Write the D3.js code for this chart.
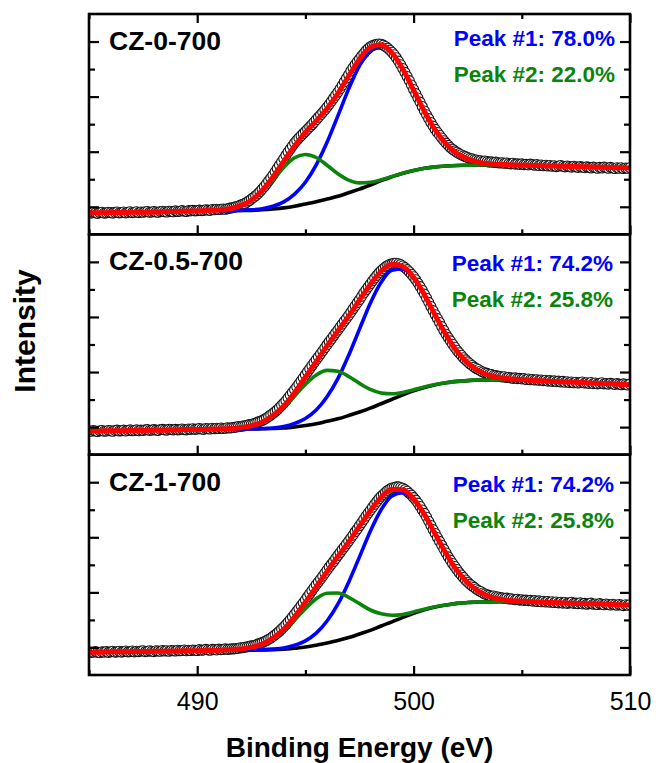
<!DOCTYPE html>
<html>
<head>
<meta charset="utf-8">
<script src="https://cdn.jsdelivr.net/npm/d3@7"></script>
<style>
  html, body { margin: 0; padding: 0; background: #fff; }
  svg { display: block; }
</style>
</head>
<body>
<script>
// ---- Spectral grid ----
const energyMin = 485, energyMax = 510;
const dataStep = 0.1;        // measured points
const fitStep = 0.5;         // fitted curves
const componentStart = 491;  // fit window start for background and peaks
const xMajorTicks = [490, 500, 510];
const xMinorTicks = [485, 495, 505];
const yMajorTicks = [1, 3, 5, 7];
const yMinorTicks = [2, 4, 6];
const intensityDomain = [0, 8];

const sampleNames = ["CZ-0-700", "CZ-0.5-700", "CZ-1-700"];
const peak1Shares = ["78.0%", "74.2%", "74.2%"];
const peak2Shares = ["22.0%", "25.8%", "25.8%"];

// ---- Measured spectra (485.0 ... 510.0 eV, 0.1 eV step) ----
const measured0 = [
  0.79,0.77,0.80,0.78,0.76,0.79,0.80,0.77,0.78,0.80,
  0.79,0.77,0.80,0.81,0.78,0.79,0.81,0.78,0.80,0.82,
  0.79,0.80,0.82,0.79,0.81,0.80,0.82,0.83,0.80,0.81,
  0.83,0.81,0.80,0.83,0.84,0.82,0.81,0.84,0.83,0.82,
  0.85,0.83,0.84,0.86,0.84,0.83,0.86,0.85,0.87,0.85,
  0.86,0.88,0.86,0.87,0.89,0.88,0.87,0.90,0.89,0.91,
  0.90,0.91,0.92,0.91,0.93,0.95,0.96,0.98,1.01,1.03,
  1.06,1.09,1.12,1.17,1.22,1.28,1.34,1.40,1.47,1.55,
  1.64,1.73,1.83,1.94,2.04,2.15,2.27,2.39,2.51,2.63,
  2.75,2.87,2.99,3.10,3.21,3.32,3.41,3.50,3.58,3.66,
  3.74,3.82,3.90,3.98,4.07,4.16,4.25,4.34,4.43,4.52,
  4.62,4.72,4.83,4.94,5.05,5.16,5.28,5.41,5.54,5.67,
  5.80,5.93,6.05,6.16,6.27,6.37,6.48,6.57,6.67,6.74,
  6.81,6.85,6.88,6.90,6.91,6.90,6.87,6.82,6.76,6.69,
  6.61,6.52,6.41,6.29,6.16,6.02,5.88,5.73,5.58,5.42,
  5.26,5.11,4.95,4.80,4.64,4.48,4.34,4.20,4.06,3.93,
  3.81,3.70,3.60,3.50,3.40,3.31,3.23,3.15,3.09,3.03,
  2.98,2.93,2.89,2.85,2.82,2.79,2.76,2.74,2.71,2.70,
  2.68,2.67,2.65,2.66,2.64,2.62,2.63,2.61,2.62,2.60,
  2.59,2.60,2.58,2.59,2.57,2.56,2.58,2.55,2.56,2.54,
  2.56,2.53,2.54,2.52,2.55,2.53,2.51,2.53,2.50,2.52,
  2.49,2.51,2.48,2.50,2.47,2.49,2.46,2.48,2.50,2.47,
  2.45,2.48,2.46,2.44,2.47,2.45,2.43,2.46,2.44,2.42,
  2.45,2.43,2.41,2.44,2.42,2.40,2.43,2.41,2.44,2.42,
  2.40,2.43,2.41,2.39,2.42,2.40,2.42,2.39,2.41,2.40,
  2.42
];
const measured1 = [
  0.87,0.85,0.88,0.86,0.84,0.87,0.88,0.85,0.86,0.88,
  0.87,0.85,0.88,0.89,0.86,0.87,0.89,0.86,0.88,0.90,
  0.87,0.88,0.90,0.87,0.89,0.88,0.90,0.91,0.88,0.89,
  0.91,0.89,0.88,0.91,0.92,0.90,0.89,0.92,0.91,0.90,
  0.92,0.90,0.91,0.93,0.91,0.90,0.93,0.92,0.94,0.92,
  0.93,0.95,0.93,0.92,0.95,0.94,0.93,0.96,0.94,0.96,
  0.95,0.97,0.95,0.96,0.98,0.97,0.98,0.99,1.00,1.02,
  1.02,1.04,1.05,1.07,1.09,1.10,1.12,1.15,1.18,1.21,
  1.24,1.28,1.33,1.38,1.44,1.50,1.56,1.63,1.71,1.79,
  1.87,1.96,2.06,2.16,2.26,2.36,2.46,2.57,2.68,2.79,
  2.90,3.01,3.12,3.23,3.34,3.45,3.55,3.66,3.77,3.88,
  3.99,4.10,4.20,4.31,4.42,4.52,4.63,4.74,4.85,4.95,
  5.06,5.17,5.29,5.40,5.52,5.63,5.75,5.87,5.98,6.09,
  6.20,6.31,6.41,6.51,6.60,6.68,6.75,6.82,6.87,6.91,
  6.93,6.95,6.95,6.93,6.90,6.85,6.79,6.72,6.64,6.55,
  6.46,6.35,6.23,6.10,5.97,5.83,5.68,5.53,5.38,5.23,
  5.08,4.94,4.80,4.65,4.51,4.37,4.25,4.13,4.01,3.90,
  3.79,3.70,3.61,3.52,3.44,3.37,3.30,3.24,3.18,3.13,
  3.09,3.04,3.00,2.97,2.95,2.92,2.91,2.88,2.87,2.85,
  2.84,2.82,2.83,2.80,2.81,2.79,2.77,2.79,2.76,2.77,
  2.75,2.76,2.73,2.75,2.72,2.73,2.71,2.72,2.70,2.71,
  2.69,2.70,2.67,2.69,2.66,2.68,2.65,2.67,2.64,2.66,
  2.63,2.65,2.62,2.64,2.61,2.63,2.60,2.62,2.64,2.60,
  2.61,2.59,2.62,2.58,2.60,2.57,2.59,2.61,2.57,2.58,
  2.56,2.59,2.57,2.55,2.58,2.56,2.54,2.57,2.55,2.53,
  2.56
];
const measured2 = [
  0.84,0.82,0.83,0.85,0.82,0.81,0.84,0.83,0.85,0.82,
  0.84,0.86,0.83,0.84,0.86,0.83,0.85,0.87,0.84,0.85,
  0.87,0.84,0.86,0.85,0.87,0.88,0.85,0.86,0.88,0.86,
  0.85,0.88,0.87,0.86,0.89,0.87,0.88,0.86,0.89,0.88,
  0.87,0.90,0.88,0.89,0.91,0.88,0.90,0.89,0.91,0.90,
  0.89,0.92,0.90,0.91,0.93,0.91,0.90,0.93,0.92,0.91,
  0.94,0.92,0.93,0.95,0.93,0.94,0.95,0.95,0.96,0.97,
  0.99,0.99,1.01,1.02,1.04,1.06,1.07,1.09,1.12,1.15,
  1.18,1.21,1.25,1.30,1.34,1.40,1.46,1.52,1.59,1.67,
  1.75,1.83,1.92,2.01,2.11,2.21,2.31,2.41,2.52,2.62,
  2.73,2.84,2.95,3.06,3.17,3.28,3.38,3.48,3.59,3.70,
  3.81,3.92,4.02,4.12,4.23,4.34,4.44,4.55,4.65,4.76,
  4.86,4.97,5.08,5.20,5.30,5.42,5.53,5.65,5.77,5.88,
  5.98,6.09,6.20,6.30,6.40,6.49,6.56,6.63,6.70,6.75,
  6.79,6.81,6.83,6.83,6.81,6.78,6.73,6.67,6.60,6.53,
  6.44,6.35,6.24,6.12,5.99,5.87,5.73,5.58,5.43,5.28,
  5.14,4.99,4.85,4.71,4.57,4.43,4.29,4.17,4.05,3.94,
  3.83,3.72,3.63,3.54,3.45,3.37,3.30,3.24,3.18,3.12,
  3.07,3.03,2.98,2.94,2.91,2.89,2.86,2.87,2.84,2.83,
  2.81,2.80,2.78,2.79,2.76,2.77,2.75,2.73,2.75,2.72,
  2.73,2.71,2.72,2.70,2.71,2.68,2.70,2.67,2.69,2.66,
  2.68,2.65,2.67,2.64,2.66,2.63,2.65,2.62,2.64,2.61,
  2.63,2.60,2.62,2.64,2.60,2.61,2.59,2.62,2.58,2.60,
  2.57,2.59,2.61,2.57,2.58,2.56,2.59,2.57,2.55,2.58,
  2.56,2.54,2.57,2.55,2.53,2.56,2.54,2.52,2.55,2.53,
  2.55
];

// ---- Fit envelopes (485 ... 510 eV, 0.5 eV step) ----
const envelope0 = [
  0.78,0.78,0.79,0.79,0.80,0.80,0.81,0.82,0.83,0.84,0.85,
  0.87,0.88,0.93,1.04,1.24,1.59,2.08,2.65,3.21,3.70,
  4.12,4.57,5.11,5.75,6.36,6.79,6.88,6.59,6.00,5.24,
  4.46,3.79,3.28,2.94,2.73,2.62,2.56,2.54,2.52,2.51,
  2.50,2.49,2.48,2.47,2.46,2.45,2.44,2.43,2.42,2.41
];
const envelope1 = [
  0.86,0.86,0.87,0.87,0.88,0.88,0.89,0.89,0.90,0.91,0.91,
  0.92,0.935,0.95,0.98,1.05,1.18,1.42,1.77,2.25,2.81,
  3.38,3.95,4.49,5.03,5.61,6.18,6.66,6.91,6.83,6.44,
  5.81,5.06,4.35,3.76,3.33,3.04,2.88,2.79,2.75,2.73,
  2.70,2.68,2.66,2.64,2.63,2.61,2.59,2.58,2.56,2.54
];
const envelope2 = [
  0.83,0.83,0.84,0.84,0.85,0.85,0.86,0.86,0.87,0.88,0.88,
  0.89,0.90,0.92,0.94,1.01,1.12,1.34,1.66,2.11,2.64,
  3.20,3.76,4.30,4.83,5.40,5.96,6.45,6.74,6.73,6.40,
  5.83,5.12,4.41,3.80,3.35,3.04,2.85,2.75,2.70,2.68,
  2.66,2.64,2.63,2.61,2.60,2.59,2.58,2.57,2.55,2.54
];

// ---- Shirley background and components (491 ... 505 eV, 0.5 eV step) ----
const background0 = [
  0.86,0.86,0.87,0.87,0.89,0.92,0.96,1.02,1.10,1.18,
  1.28,1.38,1.51,1.64,1.79,1.95,2.09,2.22,2.32,2.40,
  2.45,2.48,2.50,2.51,2.52,2.52,2.52,2.52,2.52
];
const peak1Line0 = [
  0.86,0.86,0.87,0.89,0.93,1.02,1.18,1.46,1.89,2.52,
  3.34,4.30,5.28,6.13,6.69,6.84,6.58,6.00,5.24,4.46,
  3.79,3.28,2.94,2.73,2.62,2.56,2.54,2.53,2.52
];
const peak2Line0 = [
  0.88,0.93,1.03,1.23,1.55,1.98,2.43,2.78,2.90,2.79,
  2.51,2.20,1.97,1.87,1.89,1.98,2.10,2.22,2.32,2.40,
  2.45,2.48,2.50,2.51,2.52,2.52,2.52,2.52,2.52
];
const background1 = [
  0.93,0.93,0.93,0.93,0.94,0.95,0.97,1.01,1.06,1.12,
  1.21,1.30,1.42,1.55,1.69,1.85,2.01,2.17,2.32,2.44,
  2.54,2.61,2.66,2.69,2.71,2.71,2.72,2.72,2.72
];
const peak1Line1 = [
  0.93,0.93,0.93,0.94,0.95,0.97,1.02,1.13,1.31,1.62,
  2.10,2.76,3.61,4.56,5.50,6.26,6.70,6.74,6.40,5.79,
  5.06,4.35,3.76,3.33,3.04,2.88,2.79,2.75,2.72
];
const peak2Line1 = [
  0.935,0.95,0.98,1.04,1.17,1.40,1.72,2.13,2.55,2.89,
  3.06,3.03,2.84,2.59,2.37,2.24,2.21,2.26,2.36,2.46,
  2.55,2.61,2.66,2.69,2.71,2.71,2.72,2.72,2.72
];
const background2 = [
  0.90,0.90,0.90,0.90,0.91,0.92,0.94,0.97,1.02,1.08,
  1.16,1.25,1.36,1.49,1.62,1.78,1.93,2.09,2.24,2.37,
  2.47,2.54,2.60,2.63,2.65,2.65,2.66,2.66,2.66
];
const peak1Line2 = [
  0.90,0.90,0.90,0.91,0.92,0.94,0.98,1.08,1.24,1.52,
  1.96,2.57,3.37,4.29,5.22,6.00,6.50,6.62,6.36,5.81,
  5.11,4.41,3.80,3.35,3.04,2.85,2.75,2.70,2.67
];
const peak2Line2 = [
  0.90,0.92,0.94,1.00,1.11,1.32,1.62,2.00,2.41,2.77,
  2.97,2.98,2.82,2.59,2.36,2.22,2.17,2.20,2.29,2.39,
  2.48,2.54,2.60,2.63,2.65,2.65,2.66,2.66,2.66
];

// ---- Layout ----
const width = 656, height = 763;
const frameLeft = 89, frameRight = 630, frameTop = 14, frameBottom = 675;
const panelH = (frameBottom - frameTop) / 3;
const fontFamily = "'Liberation Sans', Arial, Helvetica, sans-serif";
const blue = "#0000ff", green = "#0a840a", red = "#ff0000";

const panels = [
  { measured: measured0, envelope: envelope0, background: background0, peak1: peak1Line0, peak2: peak2Line0 },
  { measured: measured1, envelope: envelope1, background: background1, peak1: peak1Line1, peak2: peak2Line1 },
  { measured: measured2, envelope: envelope2, background: background2, peak1: peak1Line2, peak2: peak2Line2 }
];
// baseline offsets of the two share labels inside each panel
const shareLabelOffsets = [[32, 68], [37, 73], [37, 73]];
const shareLabelRight = [615, 613, 614];

const x = d3.scaleLinear().domain([energyMin, energyMax]).range([frameLeft, frameRight]);

const svg = d3.select("body").append("svg")
  .attr("width", width).attr("height", height)
  .attr("viewBox", `0 0 ${width} ${height}`);

const defs = svg.append("defs");

panels.forEach((p, k) => {
  const top = frameTop + k * panelH;
  const bottom = top + panelH;
  const y = d3.scaleLinear().domain(intensityDomain).range([bottom, top]);

  defs.append("clipPath").attr("id", `clip${k}`)
    .append("rect")
    .attr("x", frameLeft).attr("y", top)
    .attr("width", frameRight - frameLeft).attr("height", panelH);

  const plot = svg.append("g").attr("clip-path", `url(#clip${k})`);

  const dataPts = p.measured.map((v, i) => ({ e: energyMin + i * dataStep, v }));
  const fitPts = p.envelope.map((v, i) => ({ e: energyMin + i * fitStep, v }));
  const comp = arr => arr.map((v, i) => ({ e: componentStart + i * fitStep, v }));

  const line = d3.line()
    .x(d => x(d.e)).y(d => y(d.v))
    .curve(d3.curveMonotoneX);

  // measured points: open circles
  plot.append("g").selectAll("circle")
    .data(dataPts).join("circle")
    .attr("cx", d => x(d.e)).attr("cy", d => y(d.v))
    .attr("r", 5)
    .attr("fill", "#fff")
    .attr("stroke", "#111")
    .attr("stroke-width", 1.1);

  // background, components, envelope
  plot.append("path").datum(comp(p.background))
    .attr("d", line).attr("fill", "none").attr("stroke", "#000").attr("stroke-width", 3.6);
  plot.append("path").datum(comp(p.peak1))
    .attr("d", line).attr("fill", "none").attr("stroke", blue).attr("stroke-width", 3.6);
  plot.append("path").datum(comp(p.peak2))
    .attr("d", line).attr("fill", "none").attr("stroke", green).attr("stroke-width", 3.6);
  plot.append("path").datum(fitPts)
    .attr("d", line).attr("fill", "none").attr("stroke", red).attr("stroke-width", 5);

  // ticks (all pointing inward)
  const tickStyle = g => {
    g.select(".domain").remove();
    g.selectAll(".tick line").attr("stroke", "#000").attr("stroke-width", 2.2);
  };
  const noLabel = () => "";

  svg.append("g").attr("transform", `translate(${frameLeft},0)`)
    .call(d3.axisLeft(y).tickValues(yMajorTicks).tickSize(-10).tickFormat(noLabel)).call(tickStyle);
  svg.append("g").attr("transform", `translate(${frameLeft},0)`)
    .call(d3.axisLeft(y).tickValues(yMinorTicks).tickSize(-6).tickFormat(noLabel)).call(tickStyle);
  svg.append("g").attr("transform", `translate(${frameRight},0)`)
    .call(d3.axisRight(y).tickValues(yMajorTicks).tickSize(-10).tickFormat(noLabel)).call(tickStyle);
  svg.append("g").attr("transform", `translate(${frameRight},0)`)
    .call(d3.axisRight(y).tickValues(yMinorTicks).tickSize(-6).tickFormat(noLabel)).call(tickStyle);

  const isLast = k === panels.length - 1;
  const bottomAxis = svg.append("g").attr("transform", `translate(0,${bottom})`)
    .call(d3.axisBottom(x).tickValues(xMajorTicks).tickSize(-9).tickPadding(17)
      .tickFormat(isLast ? d3.format("d") : noLabel))
    .call(tickStyle);
  bottomAxis.selectAll("text")
    .attr("font-family", fontFamily).attr("font-size", 25).attr("fill", "#000");
  svg.append("g").attr("transform", `translate(0,${bottom})`)
    .call(d3.axisBottom(x).tickValues(xMinorTicks).tickSize(-5).tickFormat(noLabel)).call(tickStyle);

  if (k === 0) {
    svg.append("g").attr("transform", `translate(0,${top})`)
      .call(d3.axisTop(x).tickValues(xMajorTicks).tickSize(-9).tickFormat(noLabel)).call(tickStyle);
    svg.append("g").attr("transform", `translate(0,${top})`)
      .call(d3.axisTop(x).tickValues(xMinorTicks).tickSize(-5).tickFormat(noLabel)).call(tickStyle);
  }

  // panel frame
  svg.append("rect")
    .attr("x", frameLeft).attr("y", top)
    .attr("width", frameRight - frameLeft).attr("height", panelH)
    .attr("fill", "none").attr("stroke", "#000").attr("stroke-width", 2.6);

  // sample name
  svg.append("text")
    .attr("x", 109).attr("y", top + 36)
    .attr("font-family", fontFamily).attr("font-weight", "bold").attr("font-size", 26.5)
    .attr("fill", "#000")
    .text(sampleNames[k]);

  // component shares
  svg.append("text")
    .attr("x", shareLabelRight[k]).attr("y", top + shareLabelOffsets[k][0])
    .attr("text-anchor", "end")
    .attr("font-family", fontFamily).attr("font-weight", "bold").attr("font-size", 22.5)
    .attr("fill", blue)
    .text(`Peak #1: ${peak1Shares[k]}`);
  svg.append("text")
    .attr("x", shareLabelRight[k]).attr("y", top + shareLabelOffsets[k][1])
    .attr("text-anchor", "end")
    .attr("font-family", fontFamily).attr("font-weight", "bold").attr("font-size", 22.5)
    .attr("fill", green)
    .text(`Peak #2: ${peak2Shares[k]}`);
});

// axis titles
svg.append("text")
  .attr("x", (frameLeft + frameRight) / 2).attr("y", 757)
  .attr("text-anchor", "middle")
  .attr("font-family", fontFamily).attr("font-weight", "bold").attr("font-size", 28)
  .attr("fill", "#000")
  .text("Binding Energy (eV)");

svg.append("text")
  .attr("transform", "translate(35,331) rotate(-90)")
  .attr("text-anchor", "middle")
  .attr("font-family", fontFamily).attr("font-weight", "bold").attr("font-size", 30)
  .attr("fill", "#000")
  .text("Intensity");
</script>
</body>
</html>
